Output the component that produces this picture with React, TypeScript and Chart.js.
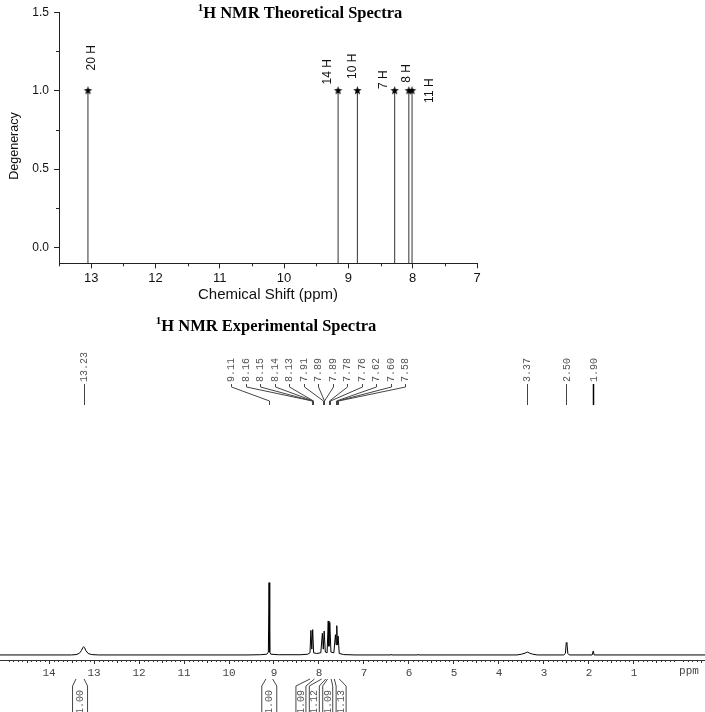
import React, { useEffect, useRef } from "react";
import { Chart, registerables } from "chart.js";
Chart.register(...registerables);

// ---------- Theoretical spectrum data ----------
const THEO_SHIFTS = [13.05, 9.16, 8.86, 8.28, 8.06, 8.01];
const THEO_DEGENERACY = [1, 1, 1, 1, 1, 1];
const THEO_LABELS = ["20 H", "14 H", "10 H", "7 H", "8 H", "11 H"];
const THEO_LABEL_X = [12.99, 9.32, 8.94, 8.45, 8.09, 7.73];
const THEO_LABEL_Y = [1.21, 1.12, 1.155, 1.07, 1.11, 1.0];
const THEO_X_TICKS = [13, 12, 11, 10, 9, 8, 7];
const THEO_Y_TICKS = [0, 0.5, 1.0, 1.5];

// ---------- Experimental spectrum data ----------
const EXP_PPM = [
  15.09, 13.5, 13.4, 13.33, 13.28, 13.25, 13.23, 13.21, 13.18, 13.13, 13.05, 12.9,
  9.6, 9.3, 9.16, 9.125, 9.11, 9.095, 9.07, 8.9,
  8.4, 8.25, 8.2, 8.18, 8.16, 8.14, 8.12, 8.05,
  7.96, 7.925, 7.905, 7.885, 7.86, 7.82,
  7.795, 7.78, 7.76, 7.735, 7.67,
  7.635, 7.62, 7.605, 7.59, 7.575, 7.55, 7.45, 7.2,
  6.42, 6.4, 6.38, 5.82, 5.8, 5.78,
  3.6, 3.5, 3.42, 3.37, 3.32, 3.25, 3.15,
  2.56, 2.525, 2.505, 2.49, 2.47, 2.44,
  1.93, 1.905, 1.885, -0.6,
];
const EXP_INTENSITY = [
  0, 0, 0.5, 2, 6, 10, 11.5, 10, 6, 2, 0.5, 0,
  0, 0.3, 1, 4, 100, 4, 1, 0.3,
  0.3, 1, 3, 34, 8, 35, 3, 2,
  3, 30, 8, 33, 4, 3,
  47, 12, 45, 4, 3,
  28, 14, 40.5, 14, 26, 2, 0.5, 0,
  0, 0.8, 0, 0, 0.8, 0,
  0, 1, 2.5, 4, 2.5, 1, 0,
  0, 2, 17, 16, 2, 0,
  0, 5.5, 0, 0,
];
const EXP_X_TICKS = [14, 13, 12, 11, 10, 9, 8, 7, 6, 5, 4, 3, 2, 1];
const PEAK_LABELS = ["13.23", "9.11", "8.16", "8.15", "8.14", "8.13", "7.91", "7.89", "7.89", "7.78", "7.76", "7.62", "7.60", "7.58", "3.37", "2.50", "1.90"];
const PEAK_POS = [13.23, 9.11, 8.16, 8.15, 8.14, 8.13, 7.91, 7.89, 7.89, 7.78, 7.76, 7.62, 7.60, 7.58, 3.37, 2.50, 1.90];
const INTEGRAL_VALUES = ["1.00", "1.00", "1.09", "1.12", "1.09", "1.13"];
const INTEGRAL_FROM = [13.40, 9.18, 8.20, 7.94, 7.81, 7.66];
const INTEGRAL_TO = [13.22, 9.03, 8.10, 7.85, 7.73, 7.55];

const SANS = '"Liberation Sans", Arial, sans-serif';
const SERIF = '"Liberation Serif", "Times New Roman", serif';
const MONO = '"Liberation Mono", "DejaVu Sans Mono", monospace';
const BOT_TOP = 305;

function makeStar(r: number) {
  const c = document.createElement("canvas");
  const s = Math.ceil(r * 2 + 2);
  c.width = s;
  c.height = s;
  const g = c.getContext("2d")!;
  g.fillStyle = "#000";
  g.beginPath();
  for (let i = 0; i < 10; i++) {
    const rad = i % 2 === 0 ? r : r * 0.42;
    const a = -Math.PI / 2 + (i * Math.PI) / 5;
    const px = s / 2 + rad * Math.cos(a);
    const py = s / 2 + rad * Math.sin(a);
    if (i) g.lineTo(px, py);
    else g.moveTo(px, py);
  }
  g.closePath();
  g.fill();
  return c;
}

function drawTitle(ctx: CanvasRenderingContext2D, text: string, cx: number, baseline: number) {
  ctx.save();
  const main = `bold 16.5px ${SERIF}`;
  const sup = `bold 11px ${SERIF}`;
  ctx.font = sup;
  const w1 = ctx.measureText("1").width;
  ctx.font = main;
  const w2 = ctx.measureText(text).width;
  const start = cx - (w1 + w2) / 2;
  ctx.fillStyle = "#000";
  ctx.textAlign = "left";
  ctx.textBaseline = "alphabetic";
  ctx.font = sup;
  ctx.fillText("1", start, baseline - 7);
  ctx.font = main;
  ctx.fillText(text, start + w1, baseline);
  ctx.restore();
}

const theoPlugin = {
  id: "theoDecor",
  afterDraw(chart: any) {
    const { ctx, chartArea, scales } = chart;
    const x = scales.x;
    const y = scales.y;
    ctx.save();
    drawTitle(ctx, "H NMR Theoretical Spectra", 300, 17.5);
    // y axis title
    ctx.save();
    ctx.translate(15, 146);
    ctx.rotate(-Math.PI / 2);
    ctx.fillStyle = "#111";
    ctx.font = `12.5px ${SANS}`;
    ctx.textAlign = "center";
    ctx.textBaseline = "middle";
    ctx.fillText("Degeneracy", 0, 0);
    ctx.restore();
    // minor ticks
    ctx.strokeStyle = "#222";
    ctx.lineWidth = 1;
    for (let k = 1; k <= 6; k += 2) {
      const v = k * 0.25;
      const py = Math.round(y.getPixelForValue(v)) + 0.5;
      ctx.beginPath();
      ctx.moveTo(chartArea.left, py);
      ctx.lineTo(chartArea.left - 3, py);
      ctx.stroke();
    }
    for (let k = 15; k <= 27; k += 2) {
      const v = k / 2;
      if (v > x.max || v < x.min) continue;
      const px = Math.round(x.getPixelForValue(v)) + 0.5;
      ctx.beginPath();
      ctx.moveTo(px, chartArea.bottom);
      ctx.lineTo(px, chartArea.bottom + 3);
      ctx.stroke();
    }
    // peak labels
    ctx.fillStyle = "#111";
    ctx.font = `12px ${SANS}`;
    ctx.textAlign = "center";
    ctx.textBaseline = "middle";
    THEO_LABELS.forEach((t, i) => {
      ctx.save();
      ctx.translate(x.getPixelForValue(THEO_LABEL_X[i]), y.getPixelForValue(THEO_LABEL_Y[i]));
      ctx.rotate(-Math.PI / 2);
      ctx.fillText(t, 0, 0);
      ctx.restore();
    });
    ctx.restore();
  },
};

const expPlugin = {
  id: "expDecor",
  afterDraw(chart: any) {
    const { ctx, chartArea, scales } = chart;
    const x = scales.x;
    ctx.save();
    drawTitle(ctx, "H NMR Experimental Spectra", 266, 331 - BOT_TOP);
    const yb = chartArea.bottom;
    ctx.strokeStyle = "#333";
    ctx.lineWidth = 1;
    for (let k = -5; k <= 150; k++) {
      if (k % 10 === 0) continue;
      const v = k / 10;
      if (v < x.min || v > x.max) continue;
      const px = Math.round(x.getPixelForValue(v)) + 0.5;
      const len = k % 5 === 0 ? 3 : 2;
      ctx.beginPath();
      ctx.moveTo(px, yb);
      ctx.lineTo(px, yb + len);
      ctx.stroke();
    }
    ctx.font = `11px ${MONO}`;
    ctx.fillStyle = "#444";
    ctx.textAlign = "center";
    ctx.textBaseline = "middle";
    ctx.fillText("ppm", x.getPixelForValue(0) + 10, yb + 11);

    // peak labels
    const tBottom = 382 - BOT_TOP;
    const l1 = 384 - BOT_TOP;
    const l2 = 387 - BOT_TOP;
    const l3 = 401 - BOT_TOP;
    const l4 = 405 - BOT_TOP;
    let ci = 0;
    ctx.font = `10px ${MONO}`;
    PEAK_LABELS.forEach((t, i) => {
      const px = x.getPixelForValue(PEAK_POS[i]);
      const inCluster = PEAK_POS[i] > 7.5 && PEAK_POS[i] < 9.2;
      const lx = inCluster ? 231 + ci++ * 14.5 : px;
      ctx.save();
      ctx.translate(lx, tBottom);
      ctx.rotate(-Math.PI / 2);
      ctx.fillStyle = "#555";
      ctx.textAlign = "left";
      ctx.textBaseline = "middle";
      ctx.fillText(t, 0, 0.5);
      ctx.restore();
      ctx.strokeStyle = PEAK_POS[i] < 2 ? "#000" : "#444";
      ctx.lineWidth = PEAK_POS[i] < 2 ? 1.5 : 1;
      ctx.beginPath();
      const lxr = Math.round(lx) + 0.5;
      const pxr = Math.round(px) + 0.5;
      ctx.moveTo(lxr, l1);
      ctx.lineTo(lxr, l2);
      ctx.lineTo(pxr, l3);
      ctx.lineTo(pxr, l4);
      ctx.stroke();
    });

    // integrals
    const iTop = 679 - BOT_TOP;
    const iMid = 686 - BOT_TOP;
    const iBot = 712 - BOT_TOP;
    let k = 0;
    INTEGRAL_VALUES.forEach((t, j) => {
      const xa = x.getPixelForValue(INTEGRAL_FROM[j]);
      const xb = x.getPixelForValue(INTEGRAL_TO[j]);
      const inCluster = INTEGRAL_FROM[j] < 8.5;
      const c = inCluster ? x.getPixelForValue(7.955) + (k++ - 1.5) * 13.4 : (xa + xb) / 2;
      const hw = inCluster ? 5 : 7.5;
      ctx.strokeStyle = "#444";
      ctx.lineWidth = 1;
      ctx.beginPath();
      ctx.moveTo(xa, iTop);
      ctx.lineTo(c - hw, iMid);
      ctx.lineTo(c - hw, iBot);
      ctx.moveTo(xb, iTop);
      ctx.lineTo(c + hw, iMid);
      ctx.lineTo(c + hw, iBot);
      ctx.stroke();
      ctx.save();
      ctx.translate(c, 714 - BOT_TOP);
      ctx.rotate(-Math.PI / 2);
      ctx.fillStyle = "#555";
      ctx.textAlign = "left";
      ctx.textBaseline = "middle";
      ctx.fillText(t, 0, 0.5);
      ctx.restore();
    });
    ctx.restore();
  },
};

export default function App() {
  const topRef = useRef<HTMLCanvasElement>(null);
  const botRef = useRef<HTMLCanvasElement>(null);

  useEffect(() => {
    const star = makeStar(4.5);
    const stemSets = THEO_SHIFTS.map((s, i) => ({
      data: [
        { x: s, y: -0.1 },
        { x: s, y: THEO_DEGENERACY[i] },
      ],
      showLine: true,
      borderColor: "#333",
      borderWidth: 1,
      pointRadius: 0,
    }));
    const top = new Chart(topRef.current!, {
      type: "scatter",
      data: {
        datasets: [
          {
            data: THEO_SHIFTS.map((s, i) => ({ x: s, y: THEO_DEGENERACY[i] })),
            pointStyle: star as any,
            pointRadius: 5,
            backgroundColor: "#000",
            borderColor: "#000",
          },
          ...stemSets,
        ] as any,
      },
      options: {
        animation: false,
        responsive: false,
        events: [],
        layout: { padding: { top: 11.7, right: 228, left: 0, bottom: 0 } },
        plugins: { legend: { display: false }, tooltip: { enabled: false } },
        scales: {
          x: {
            type: "linear",
            min: 7,
            max: 13.5,
            reverse: true,
            afterBuildTicks: (s: any) => {
              s.ticks = THEO_X_TICKS.map((v) => ({ value: v }));
            },
            afterFit: (s: any) => {
              s.height = 41.7;
            },
            ticks: {
              autoSkip: false,
              maxRotation: 0,
              padding: 2,
              color: "#111",
              font: { family: SANS, size: 13 },
              callback: (v: any) => String(v),
            },
            grid: { drawOnChartArea: false, drawTicks: true, tickLength: 5, color: "#222" },
            border: { display: true, color: "#222", width: 1 },
            title: {
              display: true,
              text: "Chemical Shift (ppm)",
              color: "#111",
              font: { family: SANS, size: 15 },
              padding: { top: 2, bottom: 1 },
            },
          },
          y: {
            type: "linear",
            min: -0.1,
            max: 1.5,
            afterBuildTicks: (s: any) => {
              s.ticks = THEO_Y_TICKS.map((v) => ({ value: v }));
            },
            afterFit: (s: any) => {
              s.width = 59;
            },
            ticks: {
              padding: 5,
              color: "#111",
              font: { family: SANS, size: 12 },
              callback: (v: any) => Number(v).toFixed(1),
            },
            grid: { drawOnChartArea: false, drawTicks: true, tickLength: 5, color: "#222" },
            border: { display: true, color: "#222", width: 1 },
            title: { display: false },
          },
        },
      } as any,
      plugins: [theoPlugin],
    });

    const bot = new Chart(botRef.current!, {
      type: "line",
      data: {
        datasets: [
          {
            data: EXP_PPM.map((p, i) => ({ x: p, y: EXP_INTENSITY[i] })),
            borderColor: "#000",
            borderWidth: 1,
            pointRadius: 0,
            tension: 0,
            fill: false,
          },
        ],
      },
      options: {
        animation: false,
        responsive: false,
        events: [],
        layout: { padding: { top: 115, left: 0, right: 0, bottom: 0 } },
        plugins: { legend: { display: false }, tooltip: { enabled: false } },
        scales: {
          x: {
            type: "linear",
            min: -0.578,
            max: 15.089,
            reverse: true,
            afterBuildTicks: (s: any) => {
              s.ticks = EXP_X_TICKS.map((v) => ({ value: v }));
            },
            afterFit: (s: any) => {
              s.height = 52;
            },
            ticks: {
              autoSkip: false,
              maxRotation: 0,
              padding: 2,
              color: "#444",
              font: { family: MONO, size: 11 },
              callback: (v: any) => String(v),
            },
            grid: { drawOnChartArea: false, drawTicks: true, tickLength: 4, color: "#333" },
            border: { display: true, color: "#333", width: 1 },
          },
          y: { display: false, min: -7, max: 325 },
        },
      } as any,
      plugins: [expPlugin],
    });

    return () => {
      top.destroy();
      bot.destroy();
    };
  }, []);

  return (
    <div style={{ position: "fixed", left: 0, top: 0, width: 705, height: 712, background: "#fff", overflow: "hidden" }}>
      <canvas ref={topRef} width={705} height={305} style={{ position: "absolute", left: 0, top: 0 }} />
      <canvas ref={botRef} width={705} height={407} style={{ position: "absolute", left: 0, top: BOT_TOP }} />
    </div>
  );
}
